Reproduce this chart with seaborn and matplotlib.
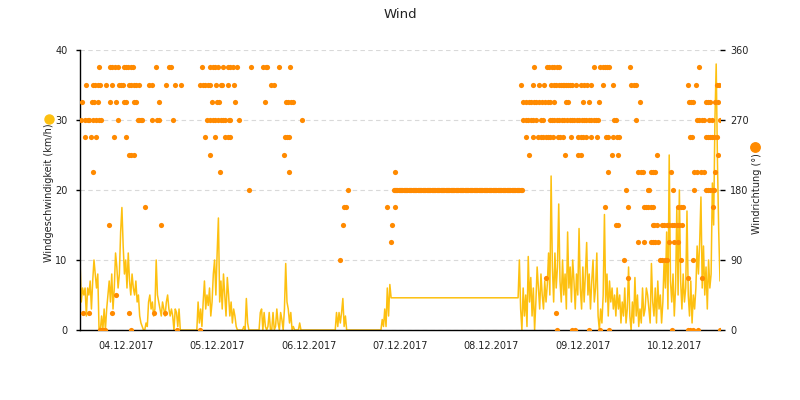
import numpy as np
import pandas as pd
import matplotlib
matplotlib.use("Agg")
import matplotlib.pyplot as plt
from matplotlib.lines import Line2D
import seaborn as sns

# -----------------------------
# Data (hours since 04.12.2017 00:00)
# -----------------------------

# wind speed in km/h, one value every 20 minutes
speed_0412 = [10, 4, 6, 5, 6, 2, 6, 5, 7, 3, 7, 10, 8, 6, 8, 0, 0, 2, 0, 3, 0,
              3, 5, 7, 4, 8, 3, 6, 11, 9, 6, 8, 14, 17.5, 12, 8, 10, 6, 11, 7, 5,
              8, 6, 5, 7, 4, 5, 2, 1, 0.5, 0, 0, 1, 0.5, 4, 5, 3, 4, 2,
              3, 10, 5, 4, 3, 2, 4, 3, 2, 4, 5, 3, 2]
speed_0512 = [3, 2, 0, 3, 2.5, 0.5, 3, 0, 0, 0, 0, 0, 0, 0, 0, 0, 0, 0, 0, 0, 0,
              4, 1, 3, 0.5, 4, 7, 3, 5, 3.5, 6, 2, 4, 8, 10, 5, 11, 16, 4, 7, 3,
              8, 5, 2, 7.5, 5, 2, 4, 1, 3, 2, 0.5, 0, 0, 0, 0, 0, 0.5, 0, 4.5, 1,
              0, 0, 0, 0, 0, 0, 0, 0, 0, 2.5, 3]
speed_0612 = [0, 2.5, 0.5, 0, 0.5, 2.5, 0, 0, 2.5, 0, 0.5, 3, 1, 0, 2.5, 1.5, 0,
              3, 9.5, 4, 3, 1, 2.5, 0, 0.5, 0, 0, 0, 0, 1, 0,
              0, 0, 0, 0, 0, 0, 0, 0, 0, 0, 0, 0, 0, 0, 0, 0, 0, 0, 0, 0, 0, 0,
              0, 0, 0, 0, 0, 2.5, 0.5, 2.5, 1, 2.5, 4.5, 0.5, 2, 0, 0, 0, 0, 0, 0]
speed_0712 = [0, 0, 0, 0, 0, 0, 0, 0, 0, 0, 0, 0, 0, 0, 0, 0, 0, 0, 0, 0, 0, 0,
              1.5, 0.5, 3, 0.5, 6, 2, 6.5, 4.6]
# logger gap, speed resumes on 08.12 evening
late_start = 115.0
speed_late = [4.6, 10, 3, 0, 6, 2, 5, 0.5, 10.5, 4,
              7.5, 2, 6, 0, 4, 9, 6, 3, 8, 5,
              3, 7, 4, 6.5, 11, 5, 22, 9, 4, 11,
              6, 9, 18, 7, 4, 10, 5, 8, 3, 14,
              6, 9, 4, 10, 7, 3, 8, 5, 14.5, 6,
              3, 9, 4, 8, 12.5, 5, 8, 3, 7, 10,
              4, 6, 11, 2, 0, 3, 1, 5, 16.5, 4,
              8, 2, 7, 4, 6, 3, 5, 2, 6, 3,
              5, 1, 4, 2, 6, 1, 3, 9, 2, 0,
              4, 1, 7.5, 2, 5, 0.5, 3, 1, 6, 2, 3, 6,
              5, 3, 1, 9.5, 4, 2, 6, 1, 7, 3,
              5, 1, 4, 10, 6, 14, 3, 25, 7, 4,
              8, 2, 6, 17.5, 5, 20, 7, 3, 8, 4,
              6, 17, 5, 2, 7, 1, 5, 3, 6, 12,
              8, 12.5, 19, 6, 12, 5, 9, 3, 10, 6,
              8, 21, 15, 30, 38, 24, 14, 7]

# wind direction: hours at which each direction was recorded
dir_000 = [5.2, 5.6, 6.1, 6.5, 13.4, 25.4, 31.5, 125.1, 129.2, 129.9, 133.7,
           136.6, 138.8, 155.4, 159.6, 160.2, 160.8, 162.2, 168.0]
dir_022 = [0.7, 2.4, 8.5, 12.8, 19.4, 22.3, 125.0]
dir_045 = [9.5]
dir_067 = [122.3, 143.9, 159.5, 163.4]
dir_090 = [68.2, 142.7, 152.3, 152.9, 153.5, 154.0, 157.7, 160.9]
dir_112 = [81.7, 146.5, 148.1, 149.8, 150.4, 151.0, 151.6, 154.5, 156.0, 157.1]
dir_135 = [7.5, 21.2, 69.1, 81.8, 140.7, 141.2, 150.3, 150.8, 151.4, 152.7,
           153.4, 154.0, 154.7, 155.4, 156.0, 156.7, 157.3, 158.0]
dir_157 = [17.1, 69.2, 69.8, 80.7, 82.6, 137.7, 143.8, 148.1, 148.6, 149.2,
           149.8, 150.4, 157.1, 157.7, 158.4, 166.1]
dir_180 = [44.4, 70.4, 143.2, 149.0, 149.4, 155.6, 161.2, 164.3, 164.9, 165.5,
           166.1, 166.5]
dir_202 = [3.5, 36.7, 54.9, 82.7, 138.5, 146.6, 147.2, 147.7, 149.8, 150.5,
           151.0, 155.1, 161.3, 161.9, 163.0, 163.9, 166.8]
dir_225 = [12.9, 13.5, 14.2, 34.1, 53.5, 117.8, 127.2, 130.8, 131.4, 139.6,
           141.2, 151.4, 167.5]
dir_247 = [1.4, 2.9, 4.2, 9.0, 12.1, 32.9, 35.5, 38.1, 38.8, 39.5, 53.8, 54.3,
           54.9, 117.2, 119.0, 120.2, 120.9, 121.5, 122.2, 122.8, 123.5, 124.1,
           125.6, 126.1, 126.7, 129.0, 130.7, 131.4, 132.0, 132.8, 134.2, 135.7,
           138.1, 138.7, 140.0, 141.0, 141.5, 160.2, 160.6, 164.3, 164.8, 165.4,
           166.0, 166.5, 167.1]
dir_270 = [0.3, 1.4, 2.0, 2.4, 3.3, 4.3, 5.0, 5.5, 9.9, 15.1, 15.5, 16.0, 16.4,
           19.0, 20.3, 20.7, 24.5, 33.3, 34.0, 34.8, 35.5, 36.2, 36.9, 37.5,
           38.1, 39.0, 39.5, 41.8, 58.4, 116.3, 117.0, 117.6, 118.3, 118.9,
           119.6, 120.9, 121.5, 123.3, 123.9, 124.5, 125.2, 125.8, 126.5, 127.1,
           127.8, 128.5, 129.2, 129.8, 130.5, 131.1, 131.8, 132.4, 132.9, 133.5,
           134.1, 134.8, 135.4, 136.1, 140.3, 140.7, 145.9, 161.9, 162.5, 163.2,
           163.8, 165.2, 165.8, 168.0]
dir_292 = [0.5, 3.1, 3.7, 4.6, 7.8, 9.4, 11.6, 12.2, 14.2, 14.8, 20.7, 34.6,
           35.9, 36.5, 40.8, 48.5, 54.1, 54.7, 55.4, 56.0, 116.3, 117.1, 117.8,
           118.4, 119.1, 119.8, 120.6, 121.3, 122.0, 122.8, 123.5, 124.3, 127.5,
           128.1, 132.0, 133.5, 136.3, 147.1, 159.9, 160.4, 160.9, 164.3, 164.8,
           165.4, 166.7, 167.4]
dir_315 = [1.7, 3.3, 3.9, 4.6, 5.2, 6.8, 8.3, 10.2, 10.8, 11.2, 12.9, 13.5,
           14.2, 14.8, 15.4, 18.1, 19.0, 22.5, 24.9, 26.6, 31.6, 32.2, 32.9,
           33.5, 34.1, 35.7, 36.9, 37.3, 38.8, 40.3, 50.2, 50.8, 115.7, 118.9,
           120.6, 121.7, 123.6, 124.3, 124.9, 125.8, 126.2, 126.7, 127.1, 127.5,
           128.1, 128.5, 129.2, 130.1, 131.5, 132.2, 133.1, 134.2, 137.3, 140.0,
           144.7, 145.3, 145.9, 159.7, 161.7, 167.1, 167.8]
dir_337 = [4.9, 7.9, 8.5, 9.1, 9.9, 11.5, 12.1, 12.7, 13.4, 13.8, 20.0, 23.4,
           24.0, 32.0, 34.2, 34.8, 35.4, 36.2, 37.5, 38.8, 39.5, 40.1, 41.2,
           44.9, 48.1, 48.7, 49.1, 52.3, 55.2, 119.1, 122.6, 123.2, 123.9,
           124.5, 125.2, 125.8, 134.8, 136.6, 137.2, 137.7, 138.3, 138.9, 144.5,
           162.6]
# sensor stuck at 180 deg, logged every 20 minutes
stuck_start = 82.3
stuck_end = 116.0

day_labels = ["04.12.2017", "05.12.2017", "06.12.2017", "07.12.2017",
              "08.12.2017", "09.12.2017", "10.12.2017"]

c_speed = "#fdc010"
c_dir = "#ff8a00"

# -----------------------------
# Build frames
# -----------------------------

hours, kmh = [], []
for start, vals in [(0, speed_0412), (24, speed_0512), (48, speed_0612),
                    (72, speed_0712), (late_start, speed_late)]:
    hours += [start + i / 3 for i in range(len(vals))]
    kmh += vals
speed = pd.DataFrame({"hour": hours, "kmh": kmh})

levels = {0: dir_000, 22.5: dir_022, 45: dir_045, 67.5: dir_067, 90: dir_090,
          112.5: dir_112, 135: dir_135, 157.5: dir_157, 180: dir_180,
          202.5: dir_202, 225: dir_225, 247.5: dir_247, 270: dir_270,
          292.5: dir_292, 315: dir_315, 337.5: dir_337}
rows = [(h, deg) for deg, hs in levels.items() for h in hs]
rows += [(h, 180) for h in np.arange(stuck_start, stuck_end, 1 / 3)]
direction = pd.DataFrame(rows, columns=["hour", "deg"])

# -----------------------------
# Plot
# -----------------------------

sns.set_style("white")
plt.rcParams["font.family"] = ["DejaVu Sans"]

fig = plt.figure(figsize=(8, 4), dpi=100)
ax = fig.add_axes([0.1, 0.175, 0.8, 0.7])

sns.lineplot(data=speed, x="hour", y="kmh", ax=ax, color=c_speed,
             linewidth=1.1, estimator=None, sort=False, legend=False)

ax2 = ax.twinx()
sns.scatterplot(data=direction, x="hour", y="deg", ax=ax2, color=c_dir,
                s=14, linewidth=0, legend=False)

ax.set_xlim(0, 168)
ax.set_ylim(0, 40)
ax2.set_ylim(0, 360)

ax.set_yticks([0, 10, 20, 30, 40])
ax2.set_yticks([0, 90, 180, 270, 360])
ax.set_xticks([12 + 24 * i for i in range(7)])
ax.set_xticklabels(day_labels)
ax.set_xticks([24 * i for i in range(1, 8)], minor=True)

ax.set_xlabel("")
ax.set_ylabel("")
ax2.set_ylabel("")

ax.yaxis.grid(True, linestyle=(0, (4, 3)), color="#d9d9d9", linewidth=0.8)
ax.xaxis.grid(False)
ax.set_axisbelow(True)

for s in ["top", "right"]:
    ax.spines[s].set_visible(False)
for s in ax2.spines.values():
    s.set_visible(False)
ax.spines["left"].set_color("black")
ax.spines["bottom"].set_color("black")
ax.spines["left"].set_linewidth(1)
ax.spines["bottom"].set_linewidth(1)

ax.tick_params(axis="x", which="major", length=0, pad=8, labelsize=7, labelcolor="#222222")
ax.tick_params(axis="x", which="minor", length=4, width=1, color="black", direction="out")
ax.tick_params(axis="y", left=True, length=3, width=1, color="black", pad=6,
               labelsize=7, labelcolor="#222222")
ax2.tick_params(axis="y", right=True, length=3.6, width=1, color="black", pad=3.6,
                labelsize=7, labelcolor="#222222")

# axis titles with series symbols
fig.text(49 / 800, 1 - 193 / 400, "Windgeschwindigkeit (km/h)", rotation=90,
         ha="center", va="center", fontsize=7, color="#222222")
fig.text(757 / 800, 1 - 194 / 400, "Windrichtung (°)", rotation=90,
         ha="center", va="center", fontsize=7, color="#222222")
fig.add_artist(Line2D([49 / 800], [1 - 119 / 400], marker="o", markersize=6.5,
                      color=c_speed, linestyle="none", transform=fig.transFigure))
fig.add_artist(Line2D([755 / 800], [1 - 147 / 400], marker="o", markersize=6.8,
                      color=c_dir, linestyle="none", transform=fig.transFigure))

fig.text(0.5, 1 - 15 / 400, "Wind", ha="center", va="center", fontsize=9.5,
         color="#222222")

plt.savefig("out.png", dpi=100)
plt.close()
